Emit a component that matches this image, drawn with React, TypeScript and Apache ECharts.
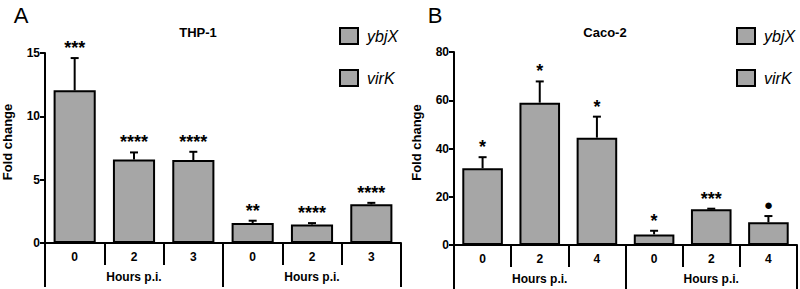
import React, { useEffect, useRef } from "react";
import * as echarts from "echarts";

// Hours post infection for each cell line; first three columns ybjX, last three virK
const hoursTHP1 = ["0", "2", "3", "0", "2", "3"];
const hoursCaco2 = ["0", "2", "4", "0", "2", "4"];
const groupLabels = ["Hours p.i.", "Hours p.i."];
const geneNames = ["ybjX", "virK"];

// THP-1 fold change (mean) and SD
const thp1YbjX = [12.05, 6.6, 6.55];
const thp1YbjXSd = [2.55, 0.55, 0.65];
const thp1VirK = [1.58, 1.47, 3.05];
const thp1VirKSd = [0.18, 0.1, 0.12];
const thp1Signif = ["***", "****", "****", "**", "****", "****"];

// Caco-2 fold change (mean) and SD
const caco2YbjX = [31.8, 59.0, 44.5];
const caco2YbjXSd = [4.6, 8.8, 8.7];
const caco2VirK = [4.4, 14.8, 9.4];
const caco2VirKSd = [1.5, 0.25, 2.6];
const caco2Signif = ["*", "*", "*", "*", "***", "●"];

const FONT = "'Liberation Sans', Arial, sans-serif";
const BAR_FILL = "#a6a6a6";

function panelSeries(
  grid: number,
  ybj: number[],
  ybjSd: number[],
  vir: number[],
  virSd: number[],
  signif: string[]
) {
  const means = [...ybj, ...vir];
  const sds = [...ybjSd, ...virSd];
  const barStyle = { color: BAR_FILL, borderColor: "#000", borderWidth: 2 };
  const common = {
    type: "bar",
    xAxisIndex: grid * 2,
    yAxisIndex: grid,
    barWidth: "71%",
    barGap: "-100%",
    itemStyle: barStyle,
    silent: true,
  };
  return [
    { ...common, name: geneNames[0], data: [...ybj, "-", "-", "-"] },
    { ...common, name: geneNames[1], data: ["-", "-", "-", ...vir] },
    {
      type: "custom",
      xAxisIndex: grid * 2,
      yAxisIndex: grid,
      z: 5,
      silent: true,
      encode: { x: 0, y: [1, 2] },
      data: means.map((m, i) => [i, m, m + sds[i]]),
      renderItem: (params: any, api: any) => {
        const i = api.value(0);
        const base = api.coord([i, api.value(1)]);
        const top = api.coord([i, api.value(2)]);
        const label = signif[params.dataIndex];
        const isDot = label === "●";
        const line = { stroke: "#000", lineWidth: 2 };
        return {
          type: "group",
          children: [
            {
              type: "line",
              shape: { x1: base[0], y1: base[1], x2: top[0], y2: top[1] },
              style: line,
            },
            {
              type: "line",
              shape: { x1: top[0] - 4, y1: top[1], x2: top[0] + 4, y2: top[1] },
              style: line,
            },
            {
              type: "text",
              style: {
                x: top[0],
                y: top[1] - (isDot ? 12 : 10),
                text: label,
                fill: "#000",
                align: "center",
                verticalAlign: "middle",
                font: isDot ? `15px ${FONT}` : `bold 18px ${FONT}`,
              },
            },
          ],
        };
      },
    },
  ];
}

function xAxes(grid: number, hours: string[]) {
  const black = { color: "#000", width: 2 };
  return [
    {
      type: "category",
      gridIndex: grid,
      data: hours,
      axisLine: { show: true, lineStyle: black },
      axisTick: { show: true, length: 22, lineStyle: black },
      axisLabel: { margin: 8, color: "#000", fontWeight: "bold", fontSize: 12, fontFamily: FONT },
    },
    {
      type: "category",
      gridIndex: grid,
      position: "bottom",
      data: groupLabels,
      axisLine: { show: false },
      axisTick: { show: true, length: 44, lineStyle: black },
      axisLabel: { margin: 28, color: "#000", fontWeight: "bold", fontSize: 12, fontFamily: FONT },
    },
  ];
}

function yAxis(grid: number, max: number, interval: number) {
  const black = { color: "#000", width: 2 };
  return {
    type: "value",
    gridIndex: grid,
    min: 0,
    max,
    interval,
    name: "Fold change",
    nameLocation: "middle",
    nameGap: 31,
    nameTextStyle: { color: "#000", fontWeight: "bold", fontSize: 13, fontFamily: FONT, padding: [0, 0, 0, 12] },
    axisLine: { show: true, lineStyle: black },
    axisTick: { show: true, length: 5, lineStyle: black },
    axisLabel: { margin: 5, color: "#000", fontWeight: "bold", fontSize: 12, fontFamily: FONT },
    splitLine: { show: false },
  };
}

function legend(left: number) {
  return {
    left,
    top: 22,
    orient: "vertical",
    icon: "rect",
    itemWidth: 18,
    itemHeight: 16,
    itemGap: 24,
    selectedMode: false,
    data: geneNames,
    itemStyle: { color: BAR_FILL, borderColor: "#000", borderWidth: 2 },
    textStyle: { color: "#000", fontStyle: "italic", fontSize: 16, fontFamily: FONT, padding: [0, 0, 0, 4] },
  };
}

function heading(x: number, y: number, text: string, font: string) {
  return {
    type: "text",
    x,
    y,
    style: { text, fill: "#000", font, align: "center", verticalAlign: "middle" },
  };
}

export default function App() {
  const ref = useRef<HTMLDivElement>(null);

  useEffect(() => {
    if (!ref.current) return;
    const chart = echarts.init(ref.current, undefined, { renderer: "svg" });
    chart.setOption({
      animation: false,
      backgroundColor: "#fff",
      textStyle: { fontFamily: FONT },
      grid: [
        { left: 42, top: 53, width: 359, height: 190 },
        { left: 454, top: 52, width: 343, height: 193 },
      ],
      xAxis: [...xAxes(0, hoursTHP1), ...xAxes(1, hoursCaco2)],
      yAxis: [yAxis(0, 15, 5), yAxis(1, 80, 20)],
      legend: [legend(334), legend(731)],
      graphic: [
        heading(21, 15, "A", `22px ${FONT}`),
        heading(198, 32, "THP-1", `bold 13px ${FONT}`),
        heading(435, 15, "B", `22px ${FONT}`),
        heading(605, 32, "Caco-2", `bold 13px ${FONT}`),
      ],
      series: [
        ...panelSeries(0, thp1YbjX, thp1YbjXSd, thp1VirK, thp1VirKSd, thp1Signif),
        ...panelSeries(1, caco2YbjX, caco2YbjXSd, caco2VirK, caco2VirKSd, caco2Signif),
      ],
    });
    return () => chart.dispose();
  }, []);

  return (
    <div
      ref={ref}
      style={{ position: "fixed", left: 0, top: 0, width: 800, height: 289 }}
    />
  );
}
